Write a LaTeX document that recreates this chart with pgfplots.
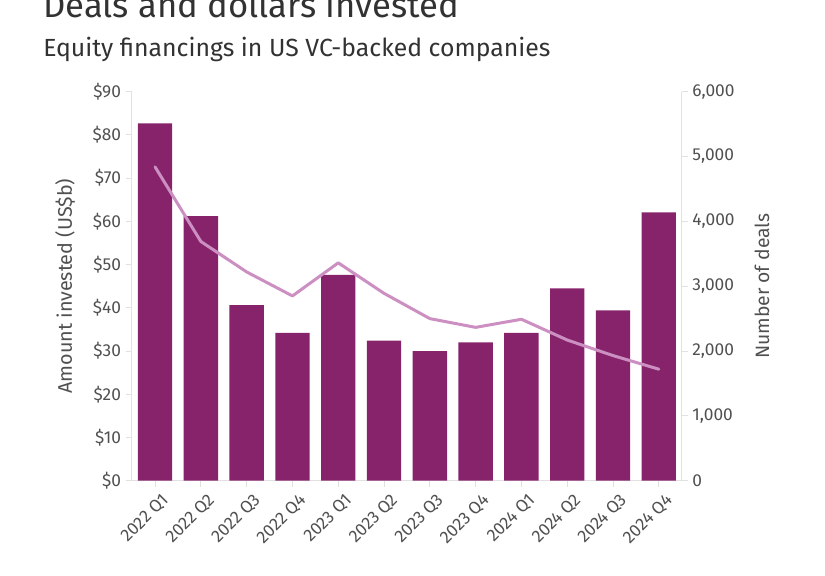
\documentclass[border=0pt]{standalone}
\usepackage{fontspec}
\setmainfont{Fira Sans}
\usepackage{pgfplots}
\usepackage{pgfplotstable}
\pgfplotsset{compat=1.18}
\definecolor{barc}{RGB}{135,35,107}
\definecolor{linec}{RGB}{204,143,194}
\definecolor{axc}{RGB}{225,225,225}
\definecolor{txt}{RGB}{80,80,80}
\definecolor{ttl}{RGB}{50,50,50}

\pgfplotstableread{
x amount deals
0 82.7 4840
1 61.2 3690
2 40.6 3220
3 34.2 2850
4 47.6 3360
5 32.4 2890
6 30.0 2500
7 32.0 2365
8 34.2 2490
9 44.5 2170
10 39.4 1930
11 62.1 1720
}\datatable

\begin{document}
\begin{tikzpicture}
\path[use as bounding box] (0,0) rectangle (618.75pt,431.25pt);
\clip (0,0) rectangle (618.75pt,431.25pt);
\node[anchor=base west, font=\fontsize{26}{29}\selectfont, text=ttl, inner sep=0] at (32.25pt,418pt) {Deals and dollars invested};
\node[anchor=base west, font=\fontsize{18.6}{22}\selectfont, text=ttl, inner sep=0] at (32.25pt,388.5pt) {Equity financings in US VC-backed companies};
\begin{axis}[
  at={(98.775pt,70.725pt)}, anchor=south west,
  width=412.5pt, height=291.75pt, scale only axis,
  xmin=-0.51, xmax=11.5, ymin=0, ymax=90,
  axis x line*=bottom, axis y line*=left,
  axis line style={axc, line width=0.75pt},
  xtick={0,...,11},
  xticklabels={2022 Q1,2022 Q2,2022 Q3,2022 Q4,2023 Q1,2023 Q2,2023 Q3,2023 Q4,2024 Q1,2024 Q2,2024 Q3,2024 Q4},
  ytick={0,10,...,90},
  yticklabels={\$0,\$10,\$20,\$30,\$40,\$50,\$60,\$70,\$80,\$90},
  tick align=outside, major tick length=4.5pt,
  tick style={axc, line width=0.75pt},
  ticklabel style={font=\fontsize{13}{15}\selectfont, text=txt},
  x tick label style={rotate=45, anchor=north east, xshift=3.5pt, yshift=-2.5pt},
  ylabel={Amount invested (US\$b)},
  ylabel style={at={(axis description cs:-0.121,0.5)}, anchor=center, font=\fontsize{14.8}{17}\selectfont, text=txt},
]
\addplot[ybar, bar width=0.75, fill=barc, draw=none] table[x=x,y=amount]{\datatable};
\end{axis}
\begin{axis}[
  at={(98.775pt,70.725pt)}, anchor=south west,
  width=412.5pt, height=291.75pt, scale only axis,
  xmin=-0.51, xmax=11.5, ymin=0, ymax=6000,
  axis x line=none, axis y line*=right,
  axis line style={axc, line width=0.75pt},
  ytick={0,1000,...,6000},
  yticklabels={0,{1,000},{2,000},{3,000},{4,000},{5,000},{6,000}},
  tick align=outside, major tick length=4.5pt,
  tick style={axc, line width=0.75pt},
  ticklabel style={font=\fontsize{13}{15}\selectfont, text=txt},
  ylabel={Number of deals},
  ylabel style={at={(axis description cs:1.146,0.5)}, anchor=center, rotate=0, font=\fontsize{14.5}{17}\selectfont, text=txt},
]
\addplot[linec, line width=2.25pt, line join=round, line cap=round] table[x=x,y=deals]{\datatable};
\end{axis}
\end{tikzpicture}
\end{document}
